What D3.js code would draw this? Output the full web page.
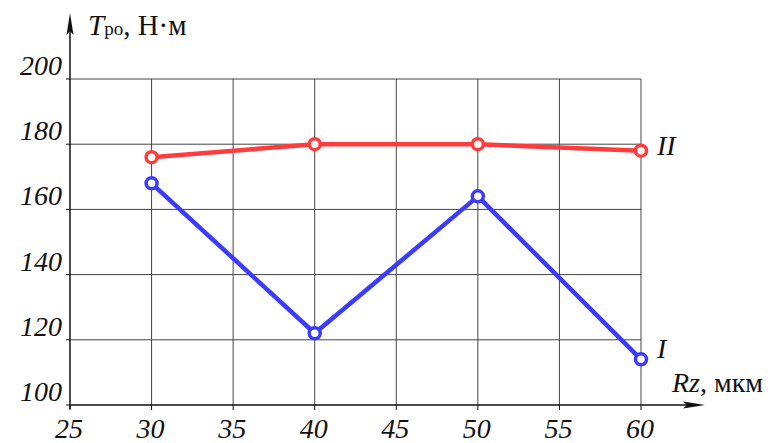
<!DOCTYPE html>
<html><head><meta charset="utf-8">
<script src="https://cdn.jsdelivr.net/npm/d3@7"></script>
<style>html,body{margin:0;padding:0;background:#fff;}svg{display:block;}</style>
</head><body>
<script>
const xTicks = [25, 30, 35, 40, 45, 50, 55, 60];
const yTicks = [100, 120, 140, 160, 180, 200];
const rz = [30, 40, 50, 60];
const seriesI = [168, 122, 164, 114];
const seriesII = [176, 180, 180, 178];

const W = 775, H = 443;
const svg = d3.select("body").append("svg").attr("width", W).attr("height", H);
const x = d3.scaleLinear().domain([25, 60]).range([70, 641]);
const y = d3.scaleLinear().domain([100, 200]).range([405, 79]);
const font = "'Liberation Serif', 'Times New Roman', serif";

// grid
svg.append("g").selectAll("line").data(xTicks.slice(1)).join("line")
  .attr("x1", d => x(d)).attr("x2", d => x(d)).attr("y1", y(200)).attr("y2", y(100))
  .attr("stroke", "#444").attr("stroke-width", 1);
svg.append("g").selectAll("line").data(yTicks.slice(1)).join("line")
  .attr("x1", x(25)).attr("x2", x(60)).attr("y1", d => y(d)).attr("y2", d => y(d))
  .attr("stroke", "#444").attr("stroke-width", 1);

// axes with arrows
svg.append("line").attr("x1", x(25)).attr("x2", x(25)).attr("y1", y(100) + 4).attr("y2", 22)
  .attr("stroke", "#111").attr("stroke-width", 1.5);
svg.append("path").attr("d", `M${x(25)},13 L${x(25)-3.5},35 L${x(25)},31 L${x(25)+3.5},35 Z`).attr("fill", "#111");
svg.append("line").attr("x1", x(25)).attr("x2", 695).attr("y1", y(100)).attr("y2", y(100))
  .attr("stroke", "#111").attr("stroke-width", 1.5);
svg.append("path").attr("d", `M705,${y(100)} L683,${y(100)-3.5} L687,${y(100)} L683,${y(100)+3.5} Z`).attr("fill", "#111");

// tick marks
svg.append("g").selectAll("line").data(xTicks).join("line")
  .attr("x1", d => x(d)).attr("x2", d => x(d)).attr("y1", y(100)).attr("y2", y(100) + 5)
  .attr("stroke", "#111").attr("stroke-width", 1);
svg.append("g").selectAll("line").data(yTicks).join("line")
  .attr("x1", x(25) - 4).attr("x2", x(25)).attr("y1", d => y(d)).attr("y2", d => y(d))
  .attr("stroke", "#111").attr("stroke-width", 1);

// tick labels
svg.append("g").selectAll("text").data(xTicks).join("text")
  .attr("x", d => x(d) - 1).attr("y", 438).attr("text-anchor", "middle")
  .attr("font-family", font).attr("font-style", "italic").attr("font-size", 28).attr("fill", "#111")
  .text(d => d);
svg.append("g").selectAll("text").data(yTicks).join("text")
  .attr("x", 62).attr("y", d => y(d) - 4).attr("text-anchor", "end")
  .attr("font-family", font).attr("font-style", "italic").attr("font-size", 28).attr("fill", "#111")
  .text(d => d);

// axis titles
const yt = svg.append("text").attr("x", 88).attr("y", 35).attr("font-family", font)
  .attr("font-size", 29).attr("fill", "#111");
yt.append("tspan").attr("font-style", "italic").text("T");
yt.append("tspan").attr("font-size", 19).text("ро");
yt.append("tspan").text(", Н·м");
const xt = svg.append("text").attr("x", 672).attr("y", 392).attr("font-family", font)
  .attr("font-size", 28).attr("fill", "#111");
xt.append("tspan").attr("font-style", "italic").text("Rz");
xt.append("tspan").text(", мкм");

// series
function drawSeries(vals, color) {
  const pts = rz.map((d, i) => [x(d), y(vals[i])]);
  svg.append("path").attr("d", d3.line()(pts)).attr("fill", "none")
    .attr("stroke", color).attr("stroke-width", 4.5).attr("stroke-linejoin", "round");
  svg.append("g").selectAll("circle").data(pts).join("circle")
    .attr("cx", d => d[0]).attr("cy", d => d[1]).attr("r", 5.5)
    .attr("fill", "#fff").attr("stroke", color).attr("stroke-width", 3.5);
}
drawSeries(seriesII, "#ff3b3b");
drawSeries(seriesI, "#3b3bff");

// series labels
svg.append("text").attr("x", 657).attr("y", y(seriesII[3]) + 4).attr("font-family", font)
  .attr("font-style", "italic").attr("font-size", 28).attr("fill", "#111").text("II");
svg.append("text").attr("x", 657).attr("y", y(seriesI[3]) - 1).attr("font-family", font)
  .attr("font-style", "italic").attr("font-size", 28).attr("fill", "#111").text("I");
</script>
</body></html>
